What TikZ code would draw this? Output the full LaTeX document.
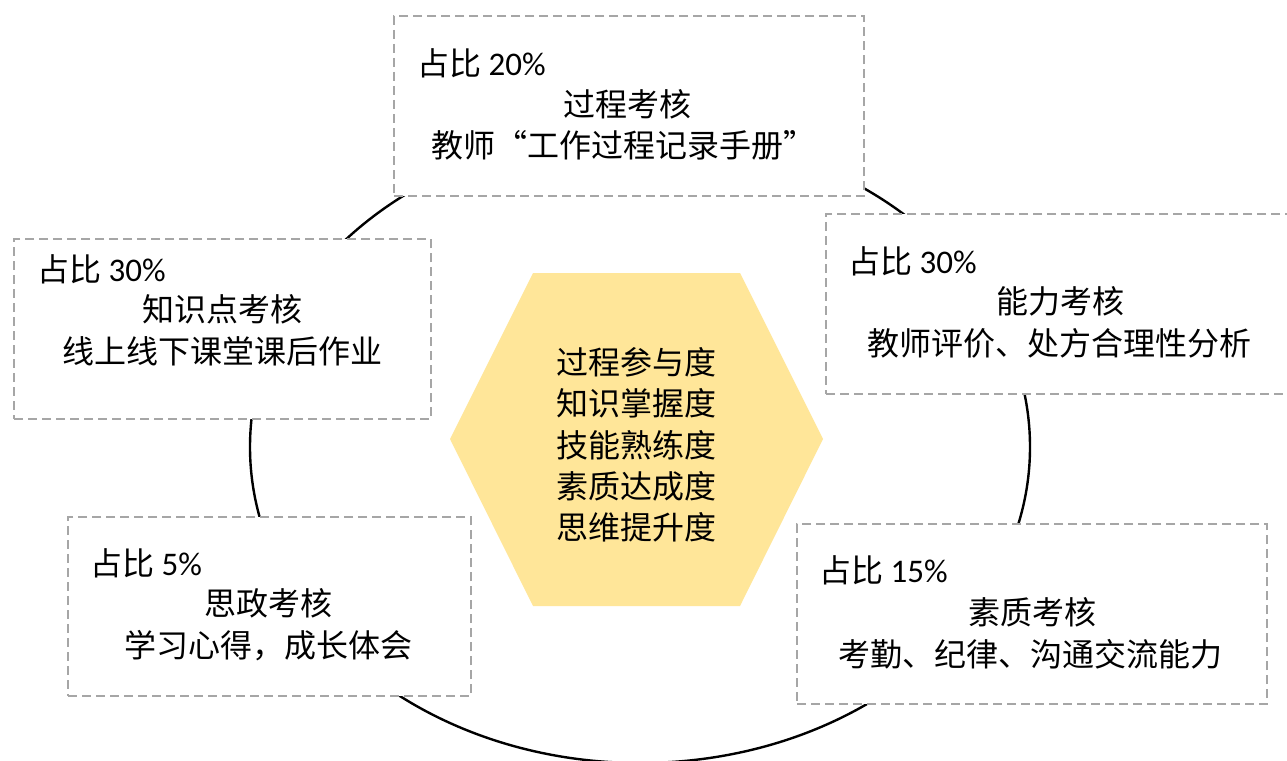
\documentclass[tikz,border=0pt]{standalone}
\usepackage{fontspec}
\newfontfamily\cjk{Noto Sans CJK SC}
\newfontfamily\lat{Carlito}
\definecolor{hexfill}{HTML}{FFE699}
\definecolor{dashgray}{HTML}{A6A6A6}
\newcommand{\myLQ}{\makebox[1em][r]{“}}
\newcommand{\myRQ}{\makebox[1em][l]{”}}
\begin{document}
\begin{tikzpicture}[x=1pt,y=-1pt,
  box/.style={draw=dashgray, line width=2pt, dash pattern=on 9pt off 5pt, fill=white, inner sep=0pt, anchor=north west},
  txt/.style={font=\fontsize{32}{38}\selectfont\cjk, inner sep=0pt, text height=0.85em, text depth=0.1em},
  pct/.style={font=\fontsize{33}{38}\selectfont\lat},
  ring/.style={line width=2.4pt, draw=black}]
\useasboundingbox (0,0) rectangle (1287,760);
\fill[white] (0,0) rectangle (1287,760);
% ring
\draw[ring] (640,447) ellipse [x radius=390pt, y radius=316pt];
% hexagon
\fill[hexfill] (450,439) -- (533,273) -- (740,273) -- (823,439) -- (740,606) -- (533,606) -- cycle;
\node[font=\fontsize{32}{41.3}\selectfont\cjk, align=center, inner sep=0pt] (core) at (636.5,445)
  {过程参与度\\知识掌握度\\技能熟练度\\素质达成度\\思维提升度};
% top box
\node[box, minimum width=470pt, minimum height=180pt] (btop) at (393,15) {};
\node[txt, anchor=west] (btop1) at (417,72) {占比{\lat\fontsize{33}{38}\selectfont\ 20\%}};
\node[txt] (btop2) at (627,113) {过程考核};
\node[txt] (btop3) at (623,154) {教师\myLQ 工作过程记录手册\myRQ};
% left top box
\node[box, minimum width=417pt, minimum height=180pt] (blt) at (13,238) {};
\node[txt, anchor=west] (blt1) at (37,278) {占比{\lat\fontsize{33}{38}\selectfont\ 30\%}};
\node[txt] (blt2) at (222,318) {知识点考核};
\node[txt] (blt3) at (222,360) {线上线下课堂课后作业};
% right top box
\node[box, minimum width=480pt, minimum height=180pt] (brt) at (825,213) {};
\node[txt, anchor=west] (brt1) at (848,270) {占比{\lat\fontsize{33}{38}\selectfont\ 30\%}};
\node[txt] (brt2) at (1060,310) {能力考核};
\node[txt] (brt3) at (1059,352) {教师评价、处方合理性分析};
% left bottom box
\node[box, minimum width=403pt, minimum height=179pt] (blb) at (67,516) {};
\node[txt, anchor=west] (blb1) at (90,572) {占比{\lat\fontsize{33}{38}\selectfont\ 5\%}};
\node[txt] (blb2) at (268,612) {思政考核};
\node[txt] (blb3) at (268,654) {学习心得，成长体会};
% right bottom box
\node[box, minimum width=470pt, minimum height=180pt] (brb) at (796,523) {};
\node[txt, anchor=west] (brb1) at (819,579) {占比{\lat\fontsize{33}{38}\selectfont\ 15\%}};
\node[txt] (brb2) at (1032,621) {素质考核};
\node[txt] (brb3) at (1030,663) {考勤、纪律、沟通交流能力};
\end{tikzpicture}
\end{document}
